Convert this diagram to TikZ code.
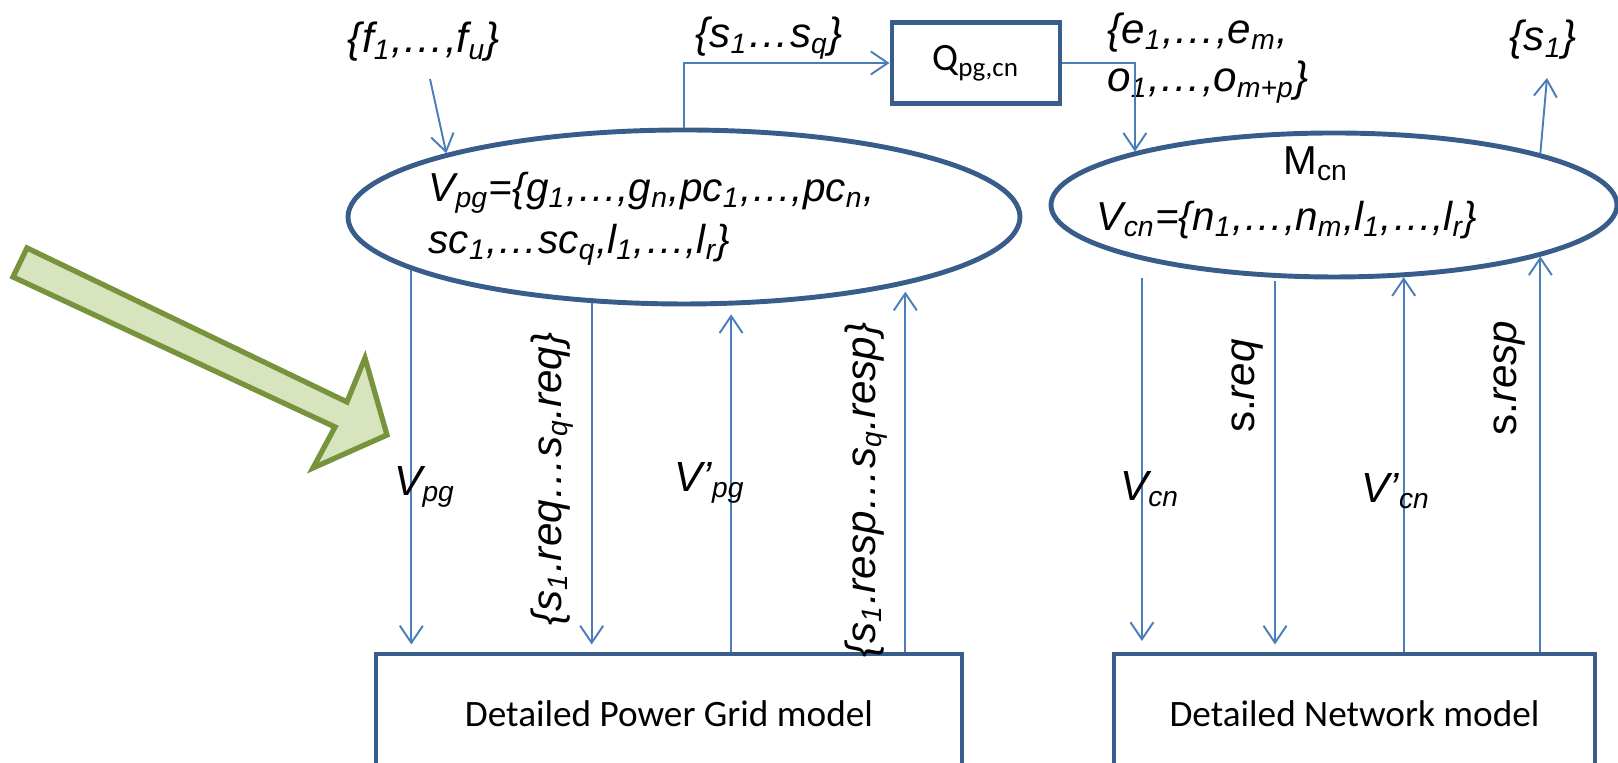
\documentclass[tikz,border=0pt]{standalone}
\usepackage{fontspec}
\setmainfont{Liberation Sans}
\newfontfamily\calfont{Carlito}
\usetikzlibrary{arrows.meta,shapes.geometric,positioning,calc}
\definecolor{cdark}{RGB}{56,93,138}
\definecolor{cflow}{RGB}{74,126,187}
\definecolor{cgfill}{RGB}{215,228,189}
\definecolor{cgdraw}{RGB}{119,147,60}
\tikzset{
  every picture/.style={line width=0.45pt},
  sflow/.style={draw=cflow, line width=0.55pt, -{Straight Barb[length=1.7mm,width=2.3mm]}},
  sell/.style={ellipse, draw=cdark, line width=1.4pt, inner sep=0pt},
  sbox/.style={rectangle, draw=cdark, line width=1.4pt, inner sep=0pt},
  slab/.style={font=\fontsize{12}{13.6}\selectfont\itshape, inner sep=1pt},
  sset/.style={font=\fontsize{11.5}{14.8}\selectfont\itshape, align=left, inner sep=0pt},
  smodel/.style={font=\calfont\fontsize{10.6}{12}\selectfont},
  sbig/.style={draw=cgdraw, fill=cgfill, line width=1.5pt, line join=miter},
}
\newcommand{\tsb}[1]{\textsubscript{#1}}

\begin{document}
\begin{tikzpicture}
\useasboundingbox (0,0) rectangle (16.18,7.63);
% pointer
\draw[sbig] (0.27,5.15) -- (3.47,3.61) -- (3.65,4.05) -- (3.87,3.28) -- (3.13,2.95) -- (3.35,3.36) -- (0.13,4.86) -- cycle;
% abstract models
\node[sell, minimum width=6.72cm, minimum height=1.74cm] (pg) at (6.84,5.46) {};
\node[sell, minimum width=5.66cm, minimum height=1.44cm] (cn) at (13.34,5.58) {};
\node[sset, anchor=west] (pgset) at (4.28,5.44) {V\tsb{pg}=\{g\tsb{1},…,g\tsb{n},pc\tsb{1},…,pc\tsb{n},\\sc\tsb{1},…sc\tsb{q},l\tsb{1},…,l\tsb{r}\}};
\node[font=\fontsize{11.5}{13}\selectfont, inner sep=0pt] (mcn) at (13.16,5.99) {M\tsb{cn}};
\node[sset, anchor=west] (cnset) at (10.96,5.43) {V\tsb{cn}=\{n\tsb{1},…,n\tsb{m},l\tsb{1},…,l\tsb{r}\}};
\node[sbox, minimum width=1.68cm, minimum height=0.81cm, font=\calfont\fontsize{11}{13}\selectfont] (q) at (9.76,7.00) {Q\tsb{pg,cn}};
% detailed models
\node[sbox, minimum width=5.86cm, minimum height=1.2cm, smodel] (pgbox) at (6.69,0.49) {Detailed Power Grid model};
\node[sbox, minimum width=4.81cm, minimum height=1.2cm, smodel] (cnbox) at (13.545,0.49) {Detailed Network model};
% sets at the top
\node[slab] (flab) at (4.24,7.21) {\{f\tsb{1},…,f\tsb{u}\}};
\node[slab] (sqlab) at (7.69,7.25) {\{s\tsb{1}…s\tsb{q}\}};
\node[slab, align=left, anchor=west] (eolab) at (11.03,7.05) {\{e\tsb{1},…,e\tsb{m},\\o\tsb{1},…,o\tsb{m+p}\}};
\node[slab] (s1lab) at (15.43,7.23) {\{s\tsb{1}\}};
\coordinate (fin) at (4.30,6.84); \coordinate (s1out) at (15.47,6.85);
\draw[sflow] (fin) -- (pg.165);
\draw[sflow] (pg.north) |- (q.west);
\draw[sflow] (q.east) -| (cn.165);
\draw[sflow] (cn.14) -- (s1out);
% power grid exchange
\draw[sflow, shorten >=2pt] (pg.191) -- (pg.191 |- pgbox.north);
\draw[sflow, shorten >=2pt] (pg.223) -- (pg.223 |- pgbox.north);
\draw[sflow, shorten >=2.5pt] (pg.298 |- pgbox.north) -- (pg.298);
\draw[sflow, shorten >=2pt] (pg.343 |- pgbox.north) -- (pg.343);
\node[slab] (vpglab) at (4.25,2.76) {V\tsb{pg}};
\node[slab, rotate=90] (reqlab) at (5.52,2.84) {\{s\tsb{1}.req…s\tsb{q}.req\}};
\node[slab] (vpgplab) at (7.10,2.80) {V’\tsb{pg}};
\node[slab, rotate=90] (resplab) at (8.66,2.73) {\{s\tsb{1}.resp…s\tsb{q}.resp\}};
% network exchange
\draw[sflow, shorten <=5pt, shorten >=3pt] (cn.196) -- (cn.196 |- cnbox.north);
\draw[sflow, shorten <=1pt, shorten >=2pt] (cn.231) -- (cn.231 |- cnbox.north);
\draw[sflow] (cn.314 |- cnbox.north) -- (cn.314);
\draw[sflow] (cn.346 |- cnbox.north) -- (cn.346);
\node[slab] (vcnlab) at (11.50,2.74) {V\tsb{cn}};
\node[slab, rotate=90] (sreqlab) at (12.48,3.77) {{\upshape s.}req};
\node[slab] (vcnplab) at (13.96,2.72) {V’\tsb{cn}};
\node[slab, rotate=90] (sresplab) at (15.10,3.85) {{\upshape s.}resp};
\end{tikzpicture}
\end{document}
